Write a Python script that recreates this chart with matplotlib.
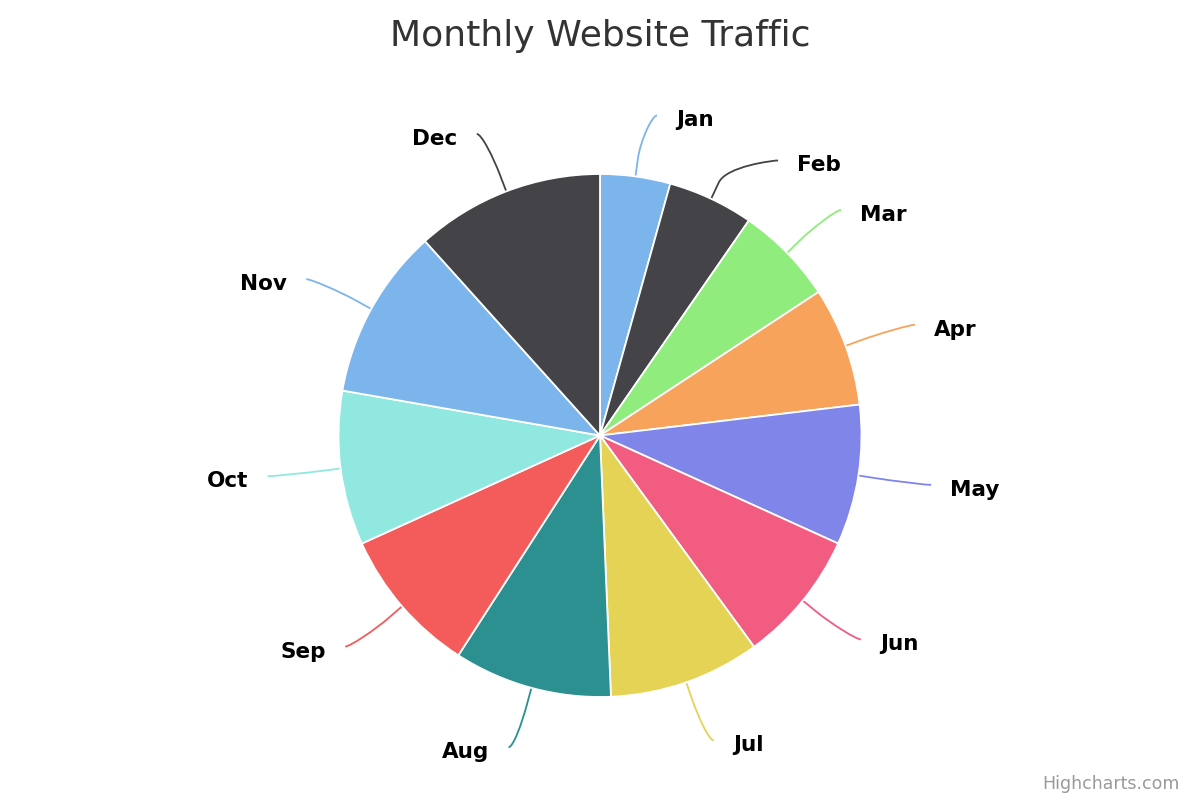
import numpy as np
import matplotlib
matplotlib.use("Agg")
import matplotlib.pyplot as plt
from matplotlib.path import Path
from matplotlib.patches import PathPatch

months = ["Jan", "Feb", "Mar", "Apr", "May", "Jun",
          "Jul", "Aug", "Sep", "Oct", "Nov", "Dec"]
visits = [15600, 19100, 22000, 26500, 31200, 29500,
          33700, 35200, 32800, 34300, 38100, 42000]
colors = ["#7cb5ec", "#434348", "#90ed7d", "#f7a35c", "#8085e9", "#f15c80",
          "#e4d354", "#2b908f", "#f45b5b", "#91e8e1", "#7cb5ec", "#434348"]
title = "Monthly Website Traffic"
credit = "Highcharts.com"

W, H = 1200, 800
fig = plt.figure(figsize=(W / 100, H / 100), dpi=100)
ax = fig.add_axes([0, 0, 1, 1])

cx, cy = 600, H - 435.5
r = 261.5
ax.pie(visits, colors=colors, startangle=90, counterclock=False,
       center=(cx, cy), radius=r,
       wedgeprops=dict(edgecolor="white", linewidth=1.3))
ax.set_xlim(0, W)
ax.set_ylim(0, H)
ax.set_aspect("equal")
ax.axis("off")

# mid-angles (compass, clockwise from north)
vals = np.array(visits, dtype=float)
cum = np.cumsum(vals) / vals.sum() * 360
mids = cum - vals / vals.sum() * 360 / 2

Ry = 323
Rx = 330
gap = 45

def pos(a, rad):
    t = np.radians(a)
    return cx + rad * np.sin(t), cy + rad * np.cos(t)

ly = {}
for side in ("right", "left"):
    idx = [i for i, a in enumerate(mids) if (a < 180) == (side == "right")]
    idx.sort(key=lambda i: -(cy + Ry * np.cos(np.radians(mids[i]))))
    prev = None
    for i in idx:
        y = cy + Ry * np.cos(np.radians(mids[i]))
        if prev is not None and prev - y < gap:
            y = prev - gap
        ly[i] = y
        prev = y

for i, a in enumerate(mids):
    right = a < 180
    y = ly[i]
    s = np.clip((y - cy) / Ry, -1, 1)
    dx = max(Rx * np.cos(np.arcsin(s)), 52)
    x = cx + dx if right else cx - dx
    tx, ty = pos(a, r)
    bx, by = pos(a, r + 18)
    verts = [(x + (5 if right else -5), y), (x, y),
             (2 * bx - tx, 2 * by - ty), (bx, by), (tx, ty)]
    codes = [Path.MOVETO, Path.CURVE4, Path.CURVE4, Path.CURVE4, Path.LINETO]
    ax.add_patch(PathPatch(Path(verts, codes), facecolor="none",
                           edgecolor=colors[i], lw=1.3, zorder=0))
    ax.text(x + (24 if right else -24), y - 5, months[i],
            ha="left" if right else "right", va="center",
            fontsize=15.5, fontweight="bold", color="black")

ax.text(W / 2, H - 36, title, ha="center", va="center",
        fontsize=26, color="#333333")
ax.text(W - 20, H - 784, credit, ha="right", va="center",
        fontsize=12.5, color="#999999")

fig.savefig("out.png", dpi=100)
